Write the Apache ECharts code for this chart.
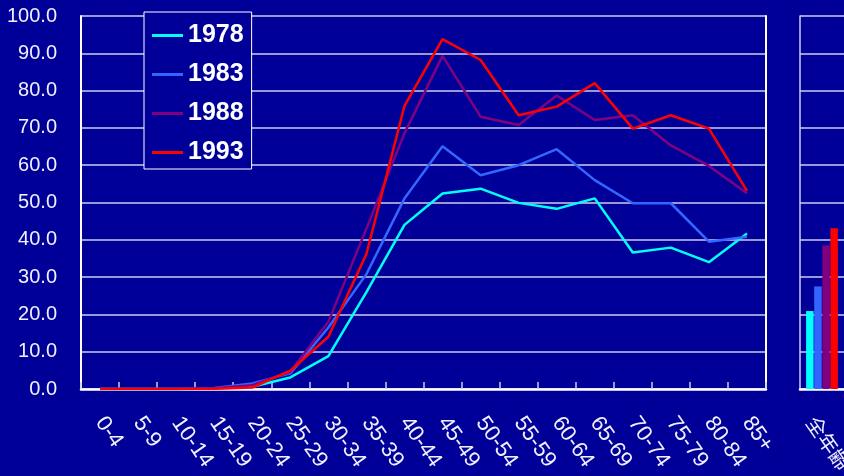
<!DOCTYPE html>
<html>
<head>
<meta charset="utf-8">
<script src="https://cdn.jsdelivr.net/npm/echarts@6/dist/echarts.min.js"></script>
<style>
html,body{margin:0;padding:0;background:#000099;}
#c{width:844px;height:476px;}
</style>
</head>
<body>
<div id="c"></div>
<script>
const categories = ['0-4','5-9','10-14','15-19','20-24','25-29','30-34','35-39','40-44','45-49','50-54','55-59','60-64','65-69','70-74','75-79','80-84','85+'];
const seriesNames = ['1978','1983','1988','1993'];
const s1978 = [0,0,0,0.1,0.6,3.1,8.8,26.0,44.0,52.4,53.7,49.9,48.3,51.1,36.6,37.9,34.0,41.7];
const s1983 = [0,0,0,0.3,1.5,4.2,16.5,30.8,51.1,65.1,57.3,60.0,64.3,56.0,49.8,49.8,39.5,40.8];
const s1988 = [0,0,0,0.2,1.0,4.6,18.0,43.0,68.6,89.3,73.0,70.8,78.7,72.1,73.4,65.3,59.8,52.5];
const s1993 = [0,0,0,0.1,0.4,4.9,14.0,36.2,75.9,93.8,88.2,73.4,75.7,82.0,69.8,73.4,69.8,53.1];
const allAgeCategory = ['全年齢'];
const allAgeValues = [20.9, 27.5, 38.5, 43.1];
const yTicks = {min: 0, max: 100, interval: 10};

const colors = ['#00ffff', '#3366ff', '#800080', '#ff0000'];
const lineData = [s1978, s1983, s1988, s1993];
const gridColor = '#ccccee';
const font = "'Liberation Sans', Arial, sans-serif";

const chart = echarts.init(document.getElementById('c'));

const lineSeries = seriesNames.map((n, i) => ({
  name: n, type: 'line', xAxisIndex: 0, yAxisIndex: 0,
  data: lineData[i], symbol: 'none', smooth: false,
  lineStyle: {color: colors[i], width: 2.5},
  itemStyle: {color: colors[i]}, z: 3 + i
}));
const barSeries = seriesNames.map((n, i) => ({
  name: n + '_all', type: 'bar', xAxisIndex: 1, yAxisIndex: 1,
  data: [allAgeValues[i]], barWidth: 7.5, barGap: '8%',
  itemStyle: {color: colors[i]}
}));

const yAxisCommon = {
  type: 'value', min: yTicks.min, max: yTicks.max, interval: yTicks.interval,
  axisLine: {show: true, lineStyle: {color: '#ffffff', width: 2}},
  axisTick: {show: false},
  splitLine: {show: true, lineStyle: {color: gridColor, width: 1.5}}
};

chart.setOption({
  backgroundColor: '#000099',
  animation: false,
  grid: [
    {left: 81, right: 78, top: 16, bottom: 87, outerBoundsMode: 'none', containLabel: false},
    {left: 800, right: 0, top: 16, bottom: 87, outerBoundsMode: 'none', containLabel: false}
  ],
  legend: {
    data: seriesNames.map(n => ({name: n, icon: 'rect'})),
    orient: 'vertical', left: 144, top: 12,
    itemWidth: 31, itemHeight: 3, itemGap: 8,
    padding: [8, 8, 1, 8],
    backgroundColor: '#000099', borderColor: '#ffffff', borderWidth: 1,
    textStyle: {color: '#ffffff', fontSize: 25, fontWeight: 'bold', fontFamily: font, lineHeight: 31},
    selectedMode: false, z: 10
  },
  xAxis: [
    {
      type: 'category', gridIndex: 0, data: categories, boundaryGap: true,
      axisLine: {show: true, lineStyle: {color: '#ffffff', width: 2.5}},
      axisTick: {show: true, inside: true, length: 7, lineStyle: {color: gridColor, width: 1.5}},
      axisLabel: {rotate: -55, color: '#f0f0ff', fontSize: 22, fontFamily: font, margin: 30, interval: 0},
      splitLine: {show: false}
    },
    {
      type: 'category', gridIndex: 1, data: allAgeCategory, boundaryGap: true,
      axisLine: {show: true, lineStyle: {color: '#ffffff', width: 2.5}},
      axisTick: {show: false},
      axisLabel: {rotate: -55, color: '#f0f0ff', fontSize: 20, fontFamily: "'Noto Sans CJK JP', sans-serif", margin: 45, interval: 0, padding: [0, 0, 0, -19]},
      splitLine: {show: false}
    }
  ],
  yAxis: [
    Object.assign({}, yAxisCommon, {
      gridIndex: 0,
      axisLabel: {show: true, color: '#f0f0ff', fontSize: 20, fontFamily: font, margin: 24, formatter: v => v.toFixed(1)}
    }),
    Object.assign({}, yAxisCommon, {gridIndex: 1, axisLabel: {show: false}, axisLine: {show: true, lineStyle: {color: gridColor, width: 1.5}}}),
    Object.assign({}, yAxisCommon, {gridIndex: 0, position: 'right', axisLabel: {show: false}, splitLine: {show: false}, axisLine: {show: true, lineStyle: {color: '#ffffff', width: 2}}})
  ],
  series: lineSeries.concat(barSeries)
});
</script>
</body>
</html>
